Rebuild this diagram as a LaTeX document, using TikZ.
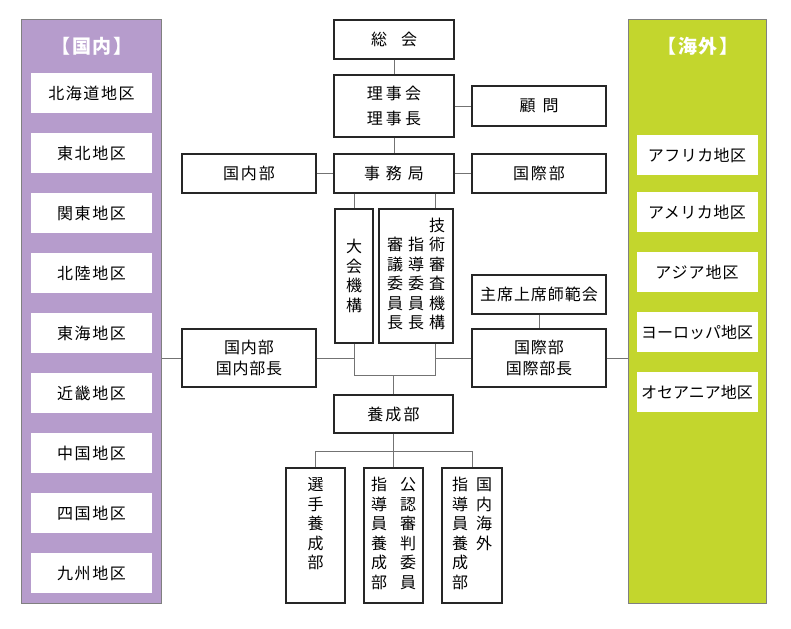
\documentclass[tikz,border=0pt]{standalone}
\usepackage{fontspec}
\setmainfont{Noto Sans CJK JP}
\usepackage{tikz}
\usetikzlibrary{positioning}
\definecolor{kokunaiPurple}{RGB}{182,156,204}
\definecolor{kaigaiGreen}{RGB}{195,214,45}
% columns of vertical text
\newcommand{\tateTop}[1]{\begin{tabular}[t]{@{}c@{}}#1\end{tabular}}
\newcommand{\tateBot}[1]{\begin{tabular}[b]{@{}c@{}}#1\end{tabular}}

\begin{document}
\begin{tikzpicture}[x = 1pt, y = -1pt,
                    spaced/.style = {font = \fontsize{16}{19.5}\selectfont\addfontfeature{LetterSpace = #1}},
                    spaced/.default = 11,
                    orgBox/.style = {draw = black!85, line width = 1.1pt, rectangle, inner sep = 0pt, fill = white, align = center, spaced},
                    tateBox/.style = {orgBox, font = \fontsize{16}{19.5}\selectfont},
                    areaBox/.style = {rectangle, fill = white, inner sep = 0pt, minimum width = 121pt, minimum height = 40pt, spaced = #1},
                    areaBox/.default = 10,
                    panel/.style = {draw = black!50, line width = 0.8pt, rectangle, inner sep = 0pt, anchor = north west},
                    panelTitle/.style = {text = white, font = \fontsize{19}{22}\selectfont\bfseries\addfontfeature{LetterSpace = 8}},
                    link/.style = {draw = black!55, line width = 0.8pt}]
    \useasboundingbox (0,0) rectangle (791,628);

    % side panels
    \node [panel, fill = kokunaiPurple, minimum width = 140pt, minimum height = 584pt] (kokunaiPanel) at (21,19) {};
    \node [panel, fill = kaigaiGreen,   minimum width = 138pt, minimum height = 584pt] (kaigaiPanel)  at (628,19) {};
    \node [panelTitle] (kokunaiTitle) at (92,46)  {【国内】};
    \node [panelTitle] (kaigaiTitle)  at (698,46) {【海外】};

    \node [areaBox]                               (hokkaido) at (91.5,93) {北海道地区};
    \node [areaBox, below = 19.6pt of hokkaido]   (tohoku)   {東北地区};
    \node [areaBox, below = 19.6pt of tohoku]     (kanto)    {関東地区};
    \node [areaBox, below = 19.6pt of kanto]      (hokuriku) {北陸地区};
    \node [areaBox, below = 19.6pt of hokuriku]   (tokai)    {東海地区};
    \node [areaBox, below = 19.6pt of tokai]      (kinki)    {近畿地区};
    \node [areaBox, below = 19.6pt of kinki]      (chugoku)  {中国地区};
    \node [areaBox, below = 19.6pt of chugoku]    (shikoku)  {四国地区};
    \node [areaBox, below = 19.6pt of shikoku]    (kyushu)   {九州地区};

    \node [areaBox = 3]                              (afurika)  at (697,155.5) {アフリカ地区};
    \node [areaBox = 3, below = 16.5pt of afurika]   (amerika)  {アメリカ地区};
    \node [areaBox = 6, below = 19.6pt of amerika]   (ajia)     {アジア地区};
    \node [areaBox = 0, below = 19.6pt of ajia]      (yoroppa)  {ヨーロッパ地区};
    \node [areaBox = 0, below = 19.6pt of yoroppa]   (oseania)  {オセアニア地区};

    % centre column
    \node [orgBox, minimum width = 120pt, minimum height = 39pt, spaced = 0] (soukai) at (394,39.5) {総\hspace{14pt}会};
    \node [orgBox, minimum width = 120pt, minimum height = 62pt,
           font = \fontsize{16}{25}\selectfont\addfontfeature{LetterSpace = 19}] (rijikai) at (394,106) {理事会\\理事長};
    \node [orgBox, minimum width = 134pt, minimum height = 40pt] (komon)     at (539,106)   {顧\hspace{7pt}問};
    \node [orgBox, minimum width = 120pt, minimum height = 39pt, spaced = 37] (jimukyoku) at (394,173.5) {事務局};
    \node [orgBox, minimum width = 134pt, minimum height = 39pt] (kokunaibu) at (249,173.5) {国内部};
    \node [orgBox, minimum width = 134pt, minimum height = 39pt] (kokusaibu) at (539,173.5) {国際部};

    \node [tateBox, minimum width = 38pt, minimum height = 134pt] (taikai)  at (354,276) {大\\会\\機\\構};
    \node [tateBox, minimum width = 74pt, minimum height = 134pt] (gijutsu) at (416,276)
          {\tateBot{審\\議\\委\\員\\長}\hspace{5pt}\tateBot{指\\導\\委\\員\\長}\hspace{5pt}\tateBot{技\\術\\審\\査\\機\\構}};

    \node [orgBox, minimum width = 134pt, minimum height = 39pt, spaced = 6] (shuseki) at (539,294.5) {主席上席師範会};
    \node [orgBox, minimum width = 134pt, minimum height = 58pt,
           font = \fontsize{16}{21.5}\selectfont\addfontfeature{LetterSpace = 5}] (kokunaiChou) at (249,358) {国内部\\国内部長};
    \node [orgBox, minimum width = 134pt, minimum height = 58pt,
           font = \fontsize{16}{21.5}\selectfont\addfontfeature{LetterSpace = 5}] (kokusaiChou) at (539,358) {国際部\\国際部長};

    \node [orgBox, minimum width = 119pt, minimum height = 38pt, spaced = 14] (yousei) at (393.5,414) {養成部};
    \node [tateBox, minimum width = 59pt, minimum height = 135pt] (senshu)  at (315.5,535.5)
          {\tateTop{選\\手\\養\\成\\部\\\mbox{}}};
    \node [tateBox, minimum width = 59pt, minimum height = 135pt] (shinpan) at (393.5,535.5)
          {\tateTop{指\\導\\員\\養\\成\\部}\hspace{13pt}\tateTop{公\\認\\審\\判\\委\\員}};
    \node [tateBox, minimum width = 60pt, minimum height = 135pt] (kaigaiYousei) at (472,535.5)
          {\tateTop{指\\導\\員\\養\\成\\部}\hspace{8pt}\tateTop{国\\内\\海\\外}};

    % connectors
    \coordinate (gijutsuLink)  at ([xshift = -18pt]gijutsu.north east);
    \coordinate (kikouBottom)  at ([yshift = -32pt]taikai.south);
    \coordinate (youseiBranch) at ([yshift = -18pt]yousei.south);

    \draw [link] (soukai) -- (rijikai);
    \draw [link] (rijikai) -- (komon);
    \draw [link] (rijikai) -- (jimukyoku);
    \draw [link] (kokunaibu) -- (jimukyoku);
    \draw [link] (jimukyoku) -- (kokusaibu);
    \draw [link] (taikai.north |- jimukyoku.south) -- (taikai.north);
    \draw [link] (gijutsuLink |- jimukyoku.south) -- (gijutsuLink);
    \draw [link] (taikai.south) -- (kikouBottom) -| (gijutsuLink |- gijutsu.south);
    \draw [link] (kokunaiChou.east) -- (kokunaiChou.east -| taikai.south);
    \draw [link] (kokusaiChou.west) -- (kokusaiChou.west -| gijutsuLink);
    \draw [link] (kokunaiPanel.east |- kokunaiChou.west) -- (kokunaiChou.west);
    \draw [link] (kokusaiChou.east) -- (kaigaiPanel.west |- kokusaiChou.east);
    \draw [link] (shuseki) -- (kokusaiChou);
    \draw [link] (yousei.north |- kikouBottom) -- (yousei.north);
    \draw [link] (yousei.south) -- (youseiBranch);
    \draw [link] (senshu.north) |- (youseiBranch) -| (kaigaiYousei.north);
    \draw [link] (youseiBranch) -- (shinpan.north);
\end{tikzpicture}
\end{document}
